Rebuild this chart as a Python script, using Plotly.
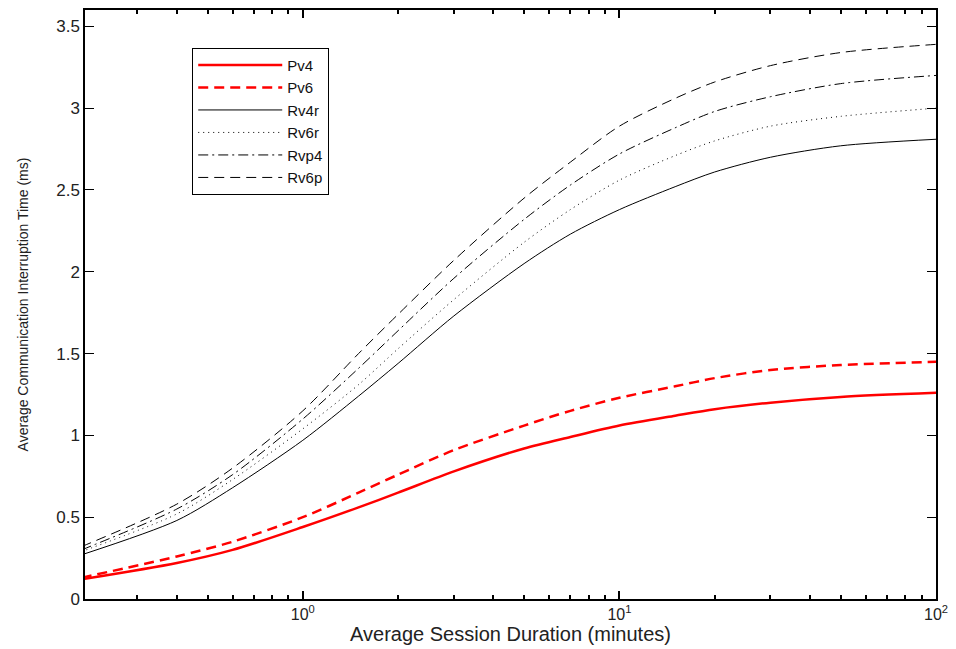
import plotly.graph_objects as go

# Session duration (minutes)
x_vals = [0.2, 0.4, 0.6, 1, 1.5, 2, 3, 5, 7, 10, 15, 20, 30, 50, 100]

pv4 = [0.12, 0.22, 0.30, 0.44, 0.56, 0.65, 0.78, 0.92, 0.99, 1.06, 1.12, 1.16, 1.20, 1.235, 1.26]
pv6 = [0.13, 0.26, 0.35, 0.50, 0.65, 0.76, 0.91, 1.06, 1.15, 1.23, 1.30, 1.35, 1.40, 1.43, 1.45]
rv4r = [0.27, 0.48, 0.68, 0.97, 1.24, 1.44, 1.73, 2.05, 2.23, 2.38, 2.52, 2.61, 2.70, 2.77, 2.81]
rv6r = [0.29, 0.52, 0.73, 1.04, 1.31, 1.53, 1.83, 2.18, 2.38, 2.56, 2.71, 2.80, 2.89, 2.95, 3.00]
rvp4 = [0.30, 0.55, 0.76, 1.10, 1.41, 1.64, 1.96, 2.32, 2.53, 2.72, 2.88, 2.98, 3.07, 3.15, 3.20]
rv6p = [0.32, 0.58, 0.80, 1.15, 1.50, 1.74, 2.07, 2.45, 2.67, 2.89, 3.06, 3.16, 3.26, 3.34, 3.39]

series_names = ["Pv4", "Pv6", "Rv4r", "Rv6r", "Rvp4", "Rv6p"]
series_vals = [pv4, pv6, rv4r, rv6r, rvp4, rv6p]

x_label_alias = {"1": "10<sup>0</sup>", "10": "10<sup>1</sup>", "100": "10<sup>2</sup>"}
x_minor_ticks = [0.3, 0.4, 0.5, 0.6, 0.7, 0.8, 0.9, 2, 3, 4, 5, 6, 7, 8, 9,
                 20, 30, 40, 50, 60, 70, 80, 90]
y_tickvals = [0, 0.5, 1, 1.5, 2, 2.5, 3, 3.5]
y_ticktext = ["0", "0.5", "1", "1.5", "2", "2.5", "3", "3.5"]

styles = [
    dict(color="#ff0000", width=2.5, dash="solid"),
    dict(color="#ff0000", width=2.5, dash="10px,6px"),
    dict(color="#000000", width=1, dash="solid"),
    dict(color="#000000", width=1, dash="1px,4px"),
    dict(color="#000000", width=1, dash="10px,4px,2px,4px"),
    dict(color="#000000", width=1, dash="10px,6px"),
]

fig = go.Figure()
for name, vals, st in zip(series_names, series_vals, styles):
    fig.add_trace(go.Scatter(x=x_vals, y=vals, mode="lines", name=name,
                             line=dict(shape="spline", smoothing=0.8, **st)))
# empty helper trace so the minor-tick axis gets drawn
fig.add_trace(go.Scatter(x=[x_vals[0]], y=[None], xaxis="x2", mode="lines",
                         showlegend=False, hoverinfo="skip"))

x_range = [-0.688, 2]
font_family = "Liberation Sans, Arial, sans-serif"
fig.update_layout(
    width=956, height=649,
    margin=dict(l=85, r=15, t=8, b=50),
    paper_bgcolor="white", plot_bgcolor="white",
    font=dict(family=font_family, size=16, color="#222222"),
    showlegend=True,
    legend=dict(x=0.126, y=0.936, xanchor="left", yanchor="top",
                bgcolor="white", bordercolor="black", borderwidth=1,
                font=dict(size=15, color="#111111"),
                itemwidth=84, tracegroupgap=0),
    xaxis=dict(
        type="log", range=x_range,
        tickmode="linear", tick0=0, dtick=1, labelalias=x_label_alias,
        ticks="inside", ticklen=8, tickcolor="black", tickwidth=1.5,
        showline=True, linecolor="black", linewidth=1.5, mirror="ticks",
        showgrid=False, zeroline=False, layer="above traces",
        title=dict(text="Average Session Duration (minutes)", standoff=2,
                   font=dict(size=20)),
        tickfont=dict(size=16),
    ),
    xaxis2=dict(type="log", range=x_range, overlaying="x", anchor="y",
                side="bottom", tickmode="array", tickvals=x_minor_ticks,
                ticks="inside", ticklen=4, tickcolor="black", tickwidth=1.5,
                showticklabels=False, showline=False, mirror="ticks",
                showgrid=False, zeroline=False, layer="above traces"),
    yaxis=dict(
        range=[0, 3.6],
        tickmode="array", tickvals=y_tickvals, ticktext=y_ticktext,
        ticks="inside", ticklen=9, tickcolor="black", tickwidth=1,
        showline=True, linecolor="black", linewidth=1.5, mirror="ticks",
        showgrid=False, zeroline=False,
        title=dict(text="Average Communication Interruption Time (ms)", standoff=24,
                   font=dict(size=14)),
        tickfont=dict(size=17),
    ),
)

fig.write_html("out.html")
